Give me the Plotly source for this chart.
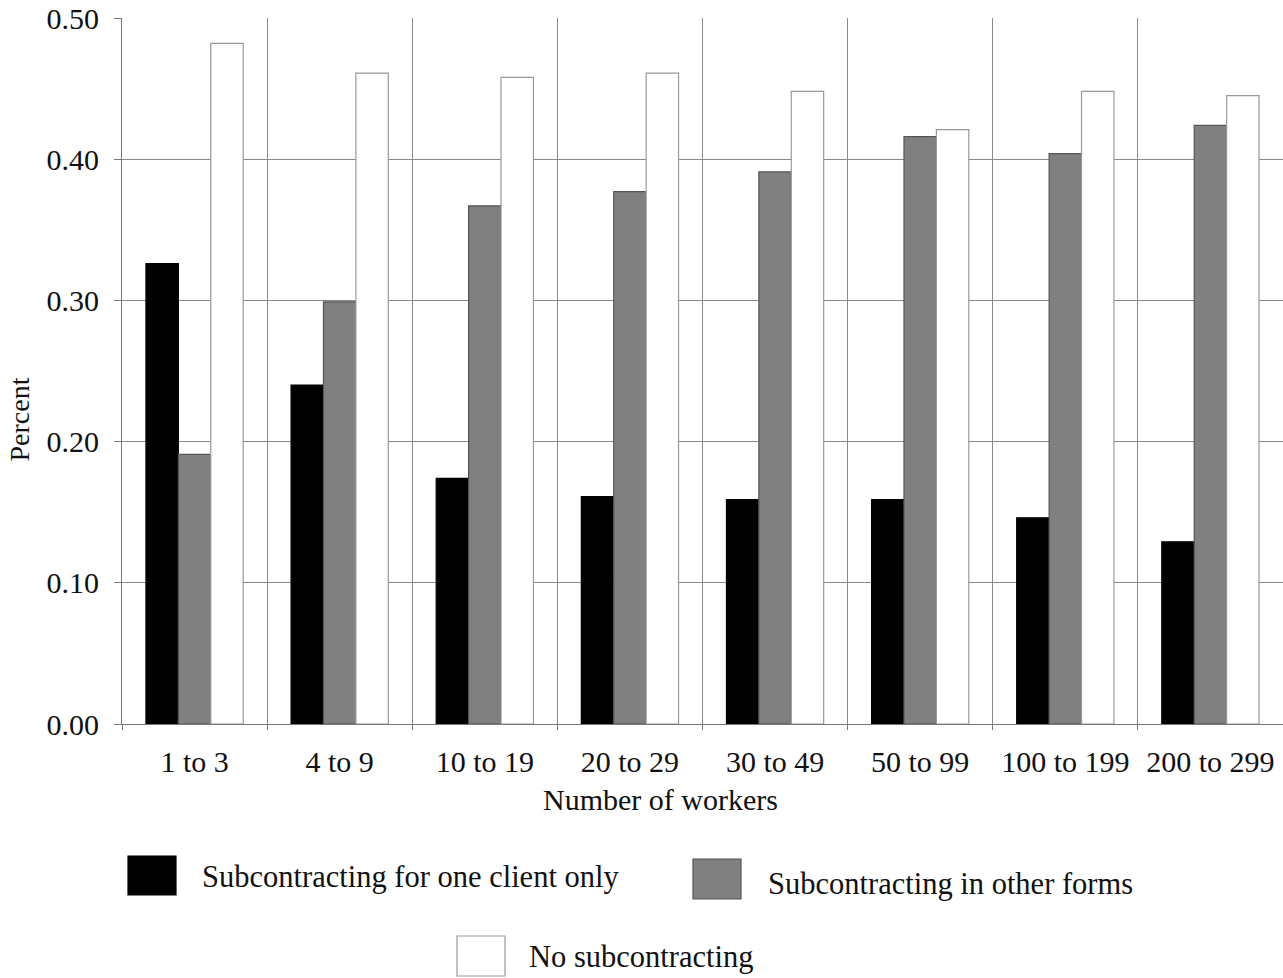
import plotly.graph_objects as go

categories = ["1 to 3", "4 to 9", "10 to 19", "20 to 29", "30 to 49", "50 to 99", "100 to 199", "200 to 299"]
one_client = [0.326, 0.240, 0.174, 0.161, 0.159, 0.159, 0.146, 0.129]
other_forms = [0.191, 0.299, 0.367, 0.377, 0.391, 0.416, 0.404, 0.424]
no_sub = [0.482, 0.461, 0.458, 0.461, 0.448, 0.421, 0.448, 0.445]
series_names = ["Subcontracting for one client only", "Subcontracting in other forms", "No subcontracting"]
y_ticks = [0.0, 0.1, 0.2, 0.3, 0.4, 0.5]

FONT = "Liberation Serif"
FS = 30
W, H = 1283, 978
ML, MT, MB = 122, 18, 254
PW = W - ML
PH = H - MT - MB

def px(x):
    return (x - ML) / PW

def py(y):
    return (H - MB - y) / PH

fig = go.Figure()
styles = [("#000000", "#000000"), ("#808080", "#555555"), ("#ffffff", "#999999")]
for name, vals, (fc, lc) in zip(series_names, [one_client, other_forms, no_sub], styles):
    fig.add_trace(go.Bar(x=categories, y=vals, name=name, marker=dict(color=fc, line=dict(color=lc, width=1.2)),
                         showlegend=False))

# legend drawn manually
leg = [
    (128, 176, 856, 895, 200, 877, 0),
    (693, 741, 859, 899, 766, 884, 1),
    (457, 505, 936, 976, 527, 957, 2),
]
shapes = []
annotations = []
for x0, x1, y0, y1, tx, ty, i in leg:
    fc, lc = styles[i]
    shapes.append(dict(type="rect", xref="paper", yref="paper", x0=px(x0), x1=px(x1), y0=py(y1), y1=py(y0),
                       fillcolor=fc, line=dict(color=lc, width=1.2)))
    annotations.append(dict(text=series_names[i], xref="paper", yref="paper", x=px(tx), y=py(ty),
                            xanchor="left", yanchor="middle", showarrow=False,
                            font=dict(family=FONT, size=30.5, color="#111111")))

annotations.append(dict(text="Number of workers", xref="paper", yref="paper", x=px(660), y=py(800),
                        xanchor="center", yanchor="middle", showarrow=False,
                        font=dict(family=FONT, size=FS, color="#111111")))
annotations.append(dict(text="Percent", xref="paper", yref="paper", x=px(2), y=py(420), textangle=-90,
                        xanchor="left", yanchor="middle", showarrow=False,
                        font=dict(family=FONT, size=28, color="#111111")))

fig.update_layout(
    width=W, height=H,
    margin=dict(l=ML, r=0, t=MT, b=MB),
    paper_bgcolor="white", plot_bgcolor="white",
    barmode="group", bargap=0.33, bargroupgap=0,
    font=dict(family=FONT, size=FS, color="#111111"),
    shapes=shapes, annotations=annotations,
)
fig.update_xaxes(tickson="boundaries", showgrid=True, gridcolor="#888888", gridwidth=1,
                 showline=True, linecolor="#777777", linewidth=1,
                 ticks="outside", ticklen=5, tickcolor="#777777",
                 tickfont=dict(family=FONT, size=FS, color="#111111"), ticklabelstandoff=11)
fig.update_yaxes(range=[0, 0.5], tickvals=y_ticks, tickformat=".2f", showgrid=True, gridcolor="#888888",
                 gridwidth=1, showline=True, linecolor="#777777", linewidth=1,
                 ticks="outside", ticklen=7, tickcolor="#777777", zeroline=False,
                 tickfont=dict(family=FONT, size=FS, color="#111111"), ticklabelstandoff=9)

fig.write_html("out.html", config={"displayModeBar": False},
               post_script="document.body.style.margin='0';document.body.style.overflow='hidden';")
